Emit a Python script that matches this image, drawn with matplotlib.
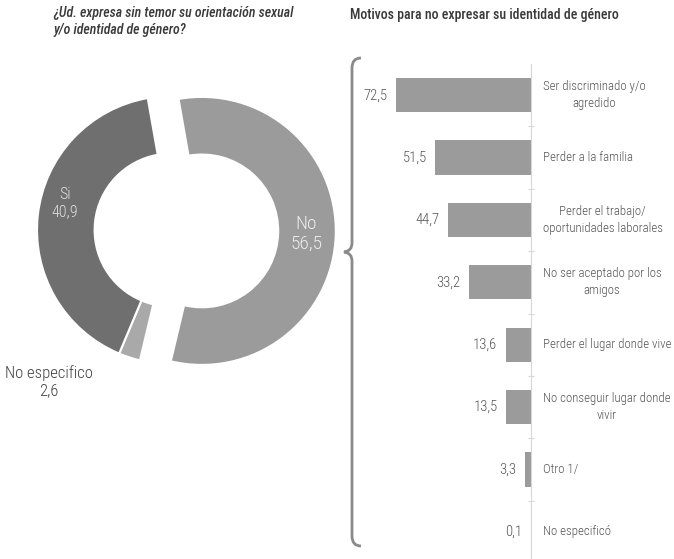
import matplotlib
matplotlib.use("Agg")
import matplotlib.pyplot as plt
from matplotlib.path import Path
from matplotlib.patches import PathPatch

plt.rcParams['font.family'] = ['Roboto Condensed', 'PT Sans Narrow', 'DejaVu Sans']

# donut data
pie_labels = ["No", "No especifico", "Si"]
pie_values = [56.5, 2.6, 40.9]
pie_text = ["56,5", "2,6", "40,9"]
pie_colors = ["#9b9b9b", "#a9a9a9", "#6f6f6f"]

# bar data
reasons = ["Ser discriminado y/o\nagredido", "Perder a la familia",
           "Perder el trabajo/\noportunidades laborales",
           "No ser aceptado por los\namigos", "Perder el lugar donde vive",
           "No conseguir lugar donde\nvivir", "Otro 1/", "No especificó"]
reason_values = [72.5, 51.5, 44.7, 33.2, 13.6, 13.5, 3.3, 0.1]
reason_text = ["72,5", "51,5", "44,7", "33,2", "13,6", "13,5", "3,3", "0,1"]

W, H = 674, 559
fig = plt.figure(figsize=(W / 100, H / 100), dpi=100)


def px(x, y, w, h):
    # pixel box (top-left origin) -> figure fraction rect
    return [x / W, 1 - (y + h) / H, w / W, h / H]


# ---- donut ----
r_px = 134
cx, cy = 171, 230
lim = 1.25
ax1 = fig.add_axes(px(cx - lim * r_px, cy - lim * r_px, 2 * lim * r_px, 2 * lim * r_px))
ax1.pie(pie_values, colors=pie_colors, startangle=100, counterclock=False,
        explode=[0.23, 0, 0],
        wedgeprops=dict(width=0.43, edgecolor="white", linewidth=1.5))
ax1.set_xlim(-lim, lim)
ax1.set_ylim(-lim, lim)
ax1.axis("off")

ax1.text(-0.79, 0.20, f"{pie_labels[2]}\n{pie_text[2]}", ha="center", va="center",
         fontsize=11.5, color="#dedede", linespacing=1.2, weight="light")
ax1.text(1.01, -0.03, f"{pie_labels[0]}\n{pie_text[0]}", ha="center", va="center",
         fontsize=14, color="#ececec", linespacing=1.15, weight="light")
ax1.text(-0.91, -1.13, f"{pie_labels[1]}\n{pie_text[1]}", ha="center", va="center",
         fontsize=12, color="#404040", linespacing=1.15, weight="light")

fig.text(53 / W, 1 - 6 / H,
         "¿Ud. expresa sin temor su orientación sexual\ny/o identidad de género?",
         ha="left", va="top", fontsize=10, style="italic", weight="medium",
         color="#3a3a3a", linespacing=1.3)

# ---- bars ----
ax2 = fig.add_axes(px(360, 64, 171, 499))
ypos = list(range(len(reason_values)))
ax2.barh(ypos, reason_values, height=0.55, color="#9b9b9b")
ax2.set_xlim(171 / 1.862, 0)
ax2.set_ylim(len(reason_values) - 0.5, -0.5)
for s in ["left", "top", "bottom"]:
    ax2.spines[s].set_visible(False)
ax2.spines["right"].set_color("#d8d8d8")
ax2.spines["right"].set_linewidth(0.8)
ax2.set_xticks([])
ax2.yaxis.tick_right()
ax2.set_yticks([i + 0.5 for i in ypos[:-1]])
ax2.set_yticklabels([])
ax2.tick_params(axis="y", direction="inout", length=5, color="#d8d8d8", width=0.8)

for i, (v, t, lab) in enumerate(zip(reason_values, reason_text, reasons)):
    ax2.annotate(t, xy=(v, i), xytext=(-6, 0), textcoords="offset points",
                 ha="right", va="center", fontsize=10.5, color="#555555", weight="light")
    ax2.annotate(lab, xy=(0, i), xytext=(8.5, 0), textcoords="offset points",
                 ha="left", va="center", fontsize=9.3, color="#555555", weight="light",
                 multialignment="center", linespacing=1.4, annotation_clip=False)

fig.text(350 / W, 1 - 15 / H, "Motivos para no expresar su identidad de género",
         ha="left", va="center", fontsize=10, weight="medium", color="#3a3a3a")

# ---- brace ----
def f(x, y):
    return (x / W, 1 - y / H)

verts = [f(361, 58), f(352, 58), f(352, 68),
         f(352, 243),
         f(352, 251), f(344, 252),
         f(352, 253), f(352, 261),
         f(352, 536), f(352, 546), f(361, 546)]
codes = [Path.MOVETO, Path.CURVE3, Path.CURVE3,
         Path.LINETO,
         Path.CURVE3, Path.CURVE3,
         Path.CURVE3, Path.CURVE3,
         Path.LINETO, Path.CURVE3, Path.CURVE3]
brace = PathPatch(Path(verts, codes), transform=fig.transFigure, fill=False,
                  edgecolor="#8a8a8a", linewidth=2)
fig.patches.append(brace)

fig.savefig("out.png", dpi=100)
